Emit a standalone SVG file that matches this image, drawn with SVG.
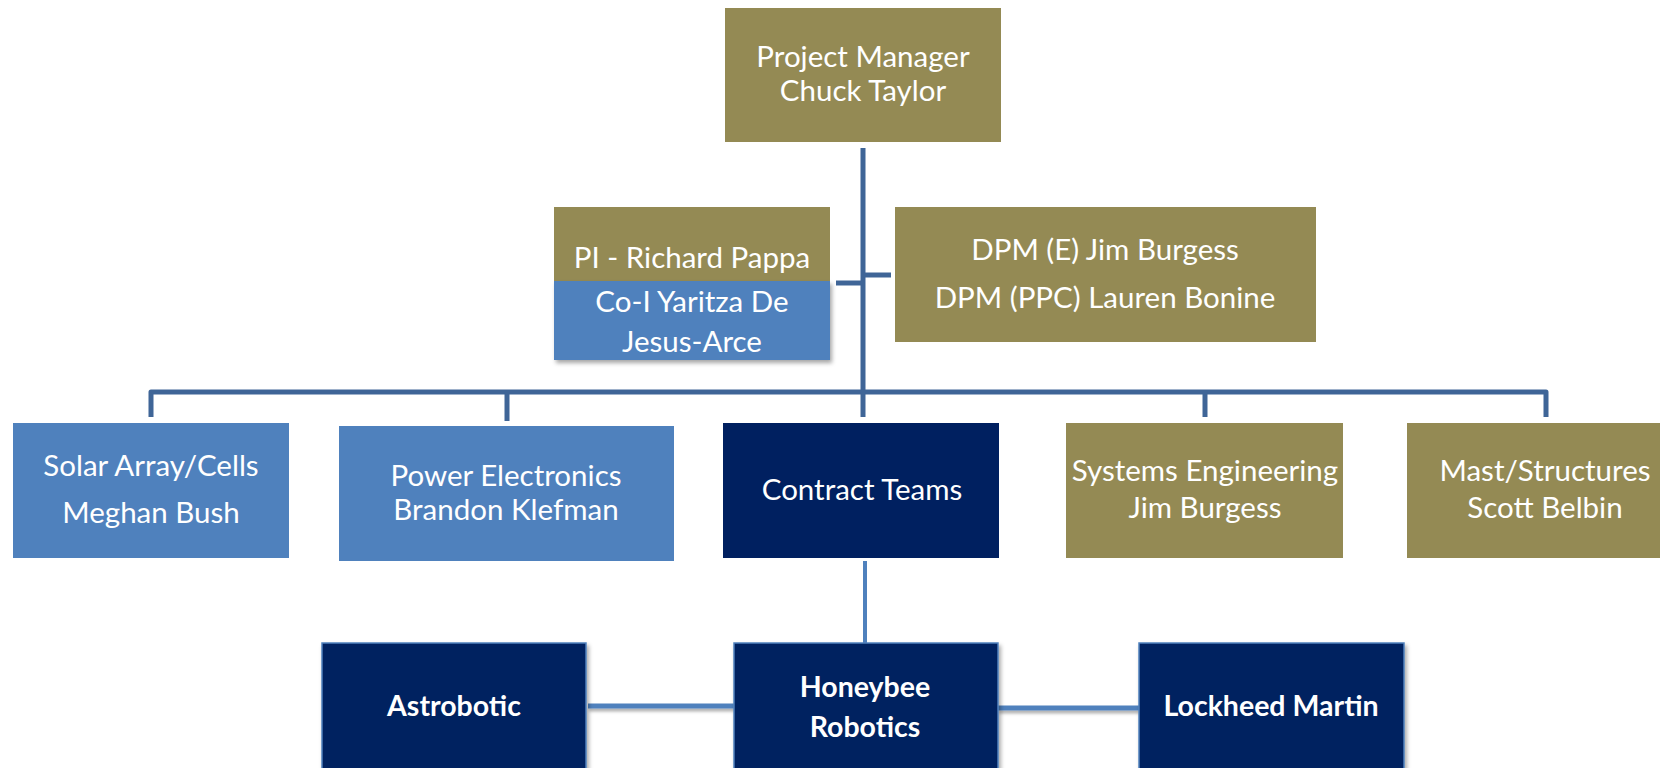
<svg xmlns="http://www.w3.org/2000/svg" width="1660" height="768" viewBox="0 0 1660 768">
<defs>
<filter id="sh" x="-10%" y="-10%" width="130%" height="130%">
<feDropShadow dx="2" dy="3" stdDeviation="2" flood-color="#000" flood-opacity="0.35"/>
</filter>
<filter id="shl" filterUnits="userSpaceOnUse" x="500" y="690" width="700" height="40">
<feDropShadow dx="1" dy="3" stdDeviation="1.5" flood-color="#000" flood-opacity="0.3"/>
</filter>
<style>
.olive{fill:#948a54}
.blue{fill:#4f81bd}
.navy{fill:#002060;stroke:#4f81bd;stroke-width:1.5}
.t{font-family:Lato,"Open Sans","Liberation Sans",sans-serif;font-size:29.5px;fill:#fff;text-anchor:middle}
.b{font-family:Lato,"Open Sans","Liberation Sans",sans-serif;font-size:28.5px;font-weight:bold;fill:#fff;text-anchor:middle}
.ln{fill:none;stroke:#3f6597;stroke-width:5;stroke-linejoin:round}
.ln2{fill:none;stroke:#4f81bd;stroke-width:5}
</style>
</defs>
<rect width="1660" height="768" fill="#fff"/>
<g id="connectors">
<path class="ln" d="M863 148 V392"/>
<path class="ln" d="M151 417 V392 H1546 V417"/>
<path class="ln" d="M507 392 V421"/>
<path class="ln" d="M863 392 V417"/>
<path class="ln" d="M1205 392 V417"/>
<path class="ln" d="M836 283 H863"/>
<path class="ln" d="M863 275 H891"/>
<path class="ln2" d="M865 561 V643" style="stroke-width:4"/>
<path class="ln2" d="M588 706 H734" filter="url(#shl)"/>
<path class="ln2" d="M998 708 H1139" filter="url(#shl)"/>
</g>
<g id="pm">
<rect class="olive" x="725" y="8" width="276" height="134"/>
<text class="t" x="863" y="67">Project Manager</text>
<text class="t" x="863" y="101">Chuck Taylor</text>
</g>
<g id="pi">
<rect class="olive" x="554" y="207" width="276" height="76"/>
<text class="t" x="692" y="268">PI - Richard Pappa</text>
</g>
<g id="coi">
<rect class="blue" x="554" y="281" width="276" height="79" filter="url(#sh)"/>
<text class="t" x="692" y="312">Co-I Yaritza De</text>
<text class="t" x="692" y="352">Jesus-Arce</text>
</g>
<g id="dpm">
<rect class="olive" x="895" y="207" width="421" height="135"/>
<text class="t" x="1105" y="260">DPM (E) Jim Burgess</text>
<text class="t" x="1105" y="308">DPM (PPC) Lauren Bonine</text>
</g>
<g id="solar">
<rect class="blue" x="13" y="423" width="276" height="135"/>
<text class="t" x="151" y="476">Solar Array/Cells</text>
<text class="t" x="151" y="523">Meghan Bush</text>
</g>
<g id="power">
<rect class="blue" x="339" y="426" width="335" height="135"/>
<text class="t" x="506" y="486">Power Electronics</text>
<text class="t" x="506" y="520">Brandon Klefman</text>
</g>
<g id="contract">
<rect fill="#002060" x="723" y="423" width="276" height="135"/>
<text class="t" x="862" y="500">Contract Teams</text>
</g>
<g id="syseng">
<rect class="olive" x="1066" y="423" width="277" height="135"/>
<text class="t" x="1205" y="481">Systems Engineering</text>
<text class="t" x="1205" y="518">Jim Burgess</text>
</g>
<g id="mast">
<rect class="olive" x="1407" y="423" width="277" height="135"/>
<text class="t" x="1545" y="481">Mast/Structures</text>
<text class="t" x="1545" y="518">Scott Belbin</text>
</g>
<g id="astrobotic">
<rect class="navy" x="322" y="643" width="264" height="140" filter="url(#sh)"/>
<text class="b" x="454" y="716">Astrobotic</text>
</g>
<g id="honeybee">
<rect class="navy" x="734" y="643" width="264" height="140" filter="url(#sh)"/>
<text class="b" x="865" y="697">Honeybee</text>
<text class="b" x="865" y="737">Robotics</text>
</g>
<g id="lockheed">
<rect class="navy" x="1139" y="643" width="265" height="140" filter="url(#sh)"/>
<text class="b" x="1271" y="716">Lockheed Martin</text>
</g>
</svg>
